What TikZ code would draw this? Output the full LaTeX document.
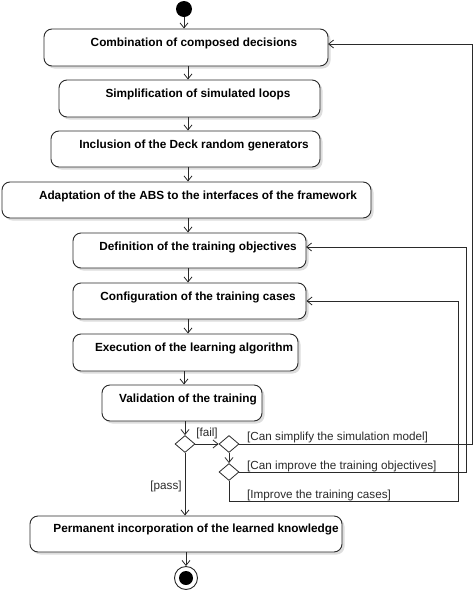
\documentclass[tikz,border=0pt]{standalone}
\usepackage{fontspec}
\setmainfont{Liberation Sans}
\usetikzlibrary{arrows.meta,shapes.geometric,calc}
\definecolor{ln}{HTML}{2A2A2A}
\definecolor{shd}{HTML}{DDDDDD}
\tikzset{
  actbox/.style={draw=ln, line width=0.9pt, rounded corners=8pt, inner sep=0pt, fill=white},
  acttext/.style={font=\fontsize{11.8}{13}\selectfont\bfseries, inner sep=0pt, text=black},
  guard/.style={font=\fontsize{11.7}{13}\selectfont, inner sep=0pt, text=ln},
  arr/.style={draw=ln, line width=0.8pt, -{Straight Barb[length=5pt,width=8pt]}},
  flow/.style={draw=ln, line width=0.8pt},
  decis/.style={diamond, draw=ln, line width=0.8pt, minimum width=20pt, minimum height=17pt, inner sep=0pt, fill=white},
}
\begin{document}
\begin{tikzpicture}[x=1pt,y=-1pt]
\useasboundingbox[fill=white] (0,0) rectangle (474,595);
% shadows
\foreach \cx/\cy/\w/\h in {186/47.5/284/37, 189.5/98.5/261/37, 185.5/149/269/36, 186.5/200/369/36, 189.5/250.5/233/35, 189.5/301/233/36, 185.5/352.5/225/37, 182/403/160/36, 186/534/312/36}
  \fill[shd, rounded corners=8pt] (\cx-\w/2+2.5,\cy-\h/2+2.5) rectangle (\cx+\w/2+2.5,\cy+\h/2+2.5);
% start
\node[circle, fill=black, minimum size=16pt, inner sep=0pt] (s) at (184,9) {};
% activity boxes
\node[actbox, minimum width=284pt, minimum height=37pt] (b1) at (186,47.5) {};
\node[actbox, minimum width=261pt, minimum height=37pt] (b2) at (189.5,98.5) {};
\node[actbox, minimum width=269pt, minimum height=36pt] (b3) at (185.5,149) {};
\node[actbox, minimum width=369pt, minimum height=36pt] (b4) at (186.5,200) {};
\node[actbox, minimum width=233pt, minimum height=35pt] (b5) at (189.5,250.5) {};
\node[actbox, minimum width=233pt, minimum height=36pt] (b6) at (189.5,301) {};
\node[actbox, minimum width=225pt, minimum height=37pt] (b7) at (185.5,352.5) {};
\node[actbox, minimum width=160pt, minimum height=36pt] (b8) at (182,403) {};
\node[actbox, minimum width=312pt, minimum height=36pt] (b9) at (186,534) {};
% texts
\node[acttext] (t1) at (194,43) {Combination of composed decisions};
\node[acttext] (t2) at (198,94) {Simplification of simulated loops};
\node[acttext] (t3) at (194,145) {Inclusion of the Deck random generators};
\node[acttext] (t4) at (198,196) {Adaptation of the ABS to the interfaces of the framework};
\node[acttext] (t5) at (198,247) {Definition of the training objectives};
\node[acttext] (t6) at (198,297) {Configuration of the training cases};
\node[acttext] (t7) at (194,348) {Execution of the learning algorithm};
\node[acttext] (t8) at (188,399) {Validation of the training};
\node[acttext] (t9) at (196,529) {Permanent incorporation of the learned knowledge};
% decisions
\node[decis] (d1) at (185,444) {};
\node[decis] (d2) at (229,444) {};
\node[decis] (d3) at (229,472) {};
% end
\node[circle, draw=ln, line width=0.9pt, fill=white, minimum size=23pt, inner sep=0pt] (e) at (186,578) {};
\node[circle, fill=black, minimum size=14pt, inner sep=0pt] (ei) at (186,578) {};
% helper coordinates
\coordinate (ax) at (188,0);
\coordinate (bx) at (184,0);
\coordinate (r1) at (472,444);
\coordinate (r2) at (466,472);
\coordinate (r3b) at (229,501);
\coordinate (r3) at (458,501);
\coordinate (b1in) at (328,44);
\coordinate (b5in) at (306,247);
% main flow
\draw[arr] (s.south) -- (b1.north -| s);
\draw[arr] (b1.south -| ax) -- (b2.north -| ax);
\draw[arr] (b2.south -| ax) -- (b3.north -| ax);
\draw[arr] (b3.south -| ax) -- (b4.north -| ax);
\draw[arr] (b4.south -| ax) -- (b5.north -| ax);
\draw[arr] (b5.south -| ax) -- (b6.north -| ax);
\draw[arr] (b6.south -| ax) -- (b7.north -| ax);
\draw[arr] (b7.south -| bx) -- (b8.north -| bx);
\draw[arr] (b8.south -| d1) -- (d1.north);
\draw[arr] (d1.east) -- (d2.west);
\draw[arr] (d2.south) -- (d3.north);
\draw[arr] (d1.south) -- (b9.north -| d1);
\draw[arr] (b9.south -| e) -- (e.north);
% loops
\draw[arr] (d2.east) -- (r1) |- (b1in);
\draw[arr] (d3.east) -- (r2) |- (b5in);
\draw[arr] (d3.south) -- (r3b) -- (r3) |- (b6.east);
% guards
\node[guard] (gf) at (207,433) {[fail]};
\node[guard] (gp) at (166,486) {[pass]};
\node[guard, anchor=west] (g1) at (247,437) {[Can simplify the simulation model]};
\node[guard, anchor=west] (g2) at (247,466) {[Can improve the training objectives]};
\node[guard, anchor=west] (g3) at (247,495) {[Improve the training cases]};
\end{tikzpicture}
\end{document}
